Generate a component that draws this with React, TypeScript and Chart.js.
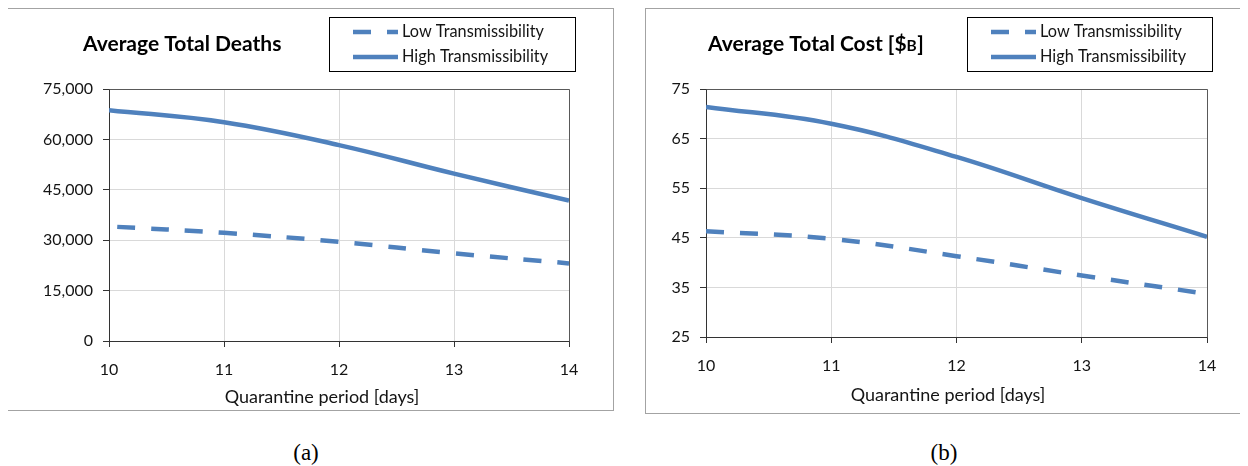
import React, { useEffect, useRef } from 'react';
import { Chart, registerables } from 'chart.js';

Chart.register(...registerables);

// ---- data ----
const periods = [10, 11, 12, 13, 14];
const seriesLabels = ['Low Transmissibility', 'High Transmissibility'];
const deathsLow = [34100, 32200, 29500, 26100, 23100];
const deathsHigh = [68700, 65100, 58300, 49800, 41800];
const costLow = [46.3, 44.8, 41.3, 37.4, 33.7];
const costHigh = [71.4, 68.0, 61.3, 53.0, 45.2];
const deathTicks = [0, 15000, 30000, 45000, 60000, 75000];
const costTicks = [25, 35, 45, 55, 65, 75];
const xAxisTitle = 'Quarantine period [days]';
const deathsTitle: [string, boolean][] = [['Average Total Deaths', false]];
const costTitle: [string, boolean][] = [['Average Total Cost [$', false], ['B', true], [']', false]];
const captions = ['(a)', '(b)'];

const BLUE = '#4F81BD';
const FONT = 'Lato, "Open Sans", sans-serif';
const TEXT = '#141414';

type Spec = {
  w: number;
  h: number;
  area: { l: number; t: number; r: number; b: number };
  low: number[];
  high: number[];
  yTicks: number[];
  title: [string, boolean][];
  titleX: number;
  titleY: number;
  legend: { x: number; y: number; w: number; h: number };
  xTitleX: number;
  xTitleY: number;
  dashOffset: number;
};

const decoPlugin = {
  id: 'deco',
  beforeDatasetsDraw(chart: any) {
    const { ctx, chartArea: a } = chart;
    ctx.save();
    ctx.strokeStyle = '#595959';
    ctx.lineWidth = 1;
    ctx.beginPath();
    ctx.moveTo(Math.round(a.left) + 0.5, Math.round(a.top) + 0.5);
    ctx.lineTo(Math.round(a.right) + 0.5, Math.round(a.top) + 0.5);
    ctx.lineTo(Math.round(a.right) + 0.5, Math.round(a.bottom) + 0.5);
    ctx.stroke();
    ctx.restore();
  },
  afterDraw(chart: any, _args: any, opts: any) {
    const { ctx } = chart;
    const s: Spec = opts.spec;
    ctx.save();
    // title
    ctx.fillStyle = '#000';
    ctx.textBaseline = 'alphabetic';
    ctx.textAlign = 'left';
    let x = s.titleX;
    for (const [txt, small] of s.title) {
      ctx.font = `bold ${small ? 15.5 : 21}px ${FONT}`;
      ctx.fillText(txt, x, s.titleY);
      x += ctx.measureText(txt).width + (small ? 0.5 : 0);
    }
    // x axis title
    ctx.font = `18px ${FONT}`;
    ctx.fillStyle = TEXT;
    ctx.textAlign = 'center';
    ctx.textBaseline = 'middle';
    ctx.fillText(xAxisTitle, s.xTitleX, s.xTitleY);
    // legend box
    const lg = s.legend;
    ctx.strokeStyle = '#000';
    ctx.lineWidth = 1;
    ctx.strokeRect(lg.x + 0.5, lg.y + 0.5, lg.w, lg.h);
    chart.data.datasets.forEach((ds: any, i: number) => {
      const yy = lg.y + 15 + i * 25;
      ctx.save();
      ctx.strokeStyle = ds.borderColor;
      ctx.lineWidth = ds.borderWidth;
      ctx.setLineDash(ds.borderDash || []);
      ctx.beginPath();
      ctx.moveTo(lg.x + 24, yy);
      ctx.lineTo(lg.x + 69, yy);
      ctx.stroke();
      ctx.restore();
      ctx.font = `16.3px ${FONT}`;
      ctx.fillStyle = TEXT;
      ctx.textAlign = 'left';
      ctx.textBaseline = 'middle';
      ctx.fillText(ds.label, lg.x + 73, yy);
    });
    ctx.restore();
  },
};

function makeConfig(s: Spec, fmt: (v: number) => string): any {
  return {
    type: 'line',
    data: {
      datasets: [
        {
          label: seriesLabels[0],
          data: periods.map((p, i) => ({ x: p, y: s.low[i] })),
          borderColor: BLUE,
          borderWidth: 4.5,
          borderDash: [18, 16],
          borderDashOffset: s.dashOffset,
          pointRadius: 0,
          tension: 0.4,
          fill: false,
        },
        {
          label: seriesLabels[1],
          data: periods.map((p, i) => ({ x: p, y: s.high[i] })),
          borderColor: BLUE,
          borderWidth: 4.5,
          pointRadius: 0,
          tension: 0.4,
          fill: false,
        },
      ],
    },
    options: {
      responsive: false,
      animation: false,
      events: [],
      layout: { padding: { left: 0, top: s.area.t, right: s.w - s.area.r, bottom: 0 } },
      plugins: {
        legend: { display: false },
        title: { display: false },
        tooltip: { enabled: false },
        deco: { spec: s },
      },
      scales: {
        x: {
          type: 'linear',
          min: periods[0],
          max: periods[periods.length - 1],
          afterBuildTicks: (sc: any) => {
            sc.ticks = periods.map((v) => ({ value: v }));
          },
          afterFit: (sc: any) => {
            sc.height = s.h - s.area.b;
            sc.paddingLeft = 0;
            sc.paddingRight = 0;
          },
          grid: { color: '#d9d9d9', tickLength: 6, tickColor: '#333', lineWidth: 1 },
          border: { color: '#333', width: 1 },
          ticks: { font: { family: FONT, size: 16 }, color: TEXT, padding: 13, maxRotation: 0 },
        },
        y: {
          type: 'linear',
          min: s.yTicks[0],
          max: s.yTicks[s.yTicks.length - 1],
          afterBuildTicks: (sc: any) => {
            sc.ticks = s.yTicks.map((v) => ({ value: v }));
          },
          afterFit: (sc: any) => {
            sc.width = s.area.l;
            sc.paddingTop = 0;
            sc.paddingBottom = 0;
          },
          grid: { color: '#d9d9d9', tickLength: 6, tickColor: '#333', lineWidth: 1 },
          border: { color: '#333', width: 1 },
          ticks: {
            font: { family: FONT, size: 16 },
            color: TEXT,
            padding: 10,
            callback: (v: number) => fmt(v),
          },
        },
      },
    },
    plugins: [decoPlugin],
  };
}

const deathSpec: Spec = {
  w: 605,
  h: 401,
  area: { l: 101, t: 80, r: 561, b: 332 },
  low: deathsLow,
  high: deathsHigh,
  yTicks: deathTicks,
  title: deathsTitle,
  titleX: 75,
  titleY: 42,
  legend: { x: 321, y: 8, w: 246, h: 54 },
  xTitleX: 314,
  xTitleY: 388,
  dashOffset: 26,
};

const costSpec: Spec = {
  w: 600,
  h: 404,
  area: { l: 60, t: 80, r: 561, b: 328 },
  low: costLow,
  high: costHigh,
  yTicks: costTicks,
  title: costTitle,
  titleX: 62,
  titleY: 42,
  legend: { x: 321, y: 8, w: 245, h: 54 },
  xTitleX: 302,
  xTitleY: 386,
  dashOffset: 0,
};

function Panel({ spec, fmt, left, top }: { spec: Spec; fmt: (v: number) => string; left: number; top: number }) {
  const ref = useRef<HTMLCanvasElement>(null);
  useEffect(() => {
    if (!ref.current) return;
    const chart = new Chart(ref.current, makeConfig(spec, fmt));
    return () => chart.destroy();
  }, []);
  return (
    <div
      style={{
        position: 'absolute',
        left,
        top,
        width: spec.w + 2,
        height: spec.h + 2,
        boxSizing: 'border-box',
        border: '1px solid #a3a3a3',
      }}
    >
      <canvas ref={ref} width={spec.w} height={spec.h} style={{ display: 'block', width: spec.w, height: spec.h }} />
    </div>
  );
}

export default function App() {
  useEffect(() => {
    document.documentElement.style.overflow = 'hidden';
  }, []);
  const capStyle: React.CSSProperties = {
    position: 'absolute',
    top: 432,
    width: 60,
    textAlign: 'center',
    fontFamily: '"Liberation Serif", "DejaVu Serif", serif',
    fontSize: 23,
    lineHeight: '26px',
    color: '#000',
  };
  return (
    <div style={{ position: 'relative', width: 1232, height: 458 }}>
      <Panel spec={deathSpec} fmt={(v) => v.toLocaleString('en-US')} left={-1} top={0} />
      <Panel spec={costSpec} fmt={(v) => String(v)} left={637} top={0} />
      <div style={{ ...capStyle, left: 306 - 8 - 30 }}>{captions[0]}</div>
      <div style={{ ...capStyle, left: 944 - 8 - 30 }}>{captions[1]}</div>
    </div>
  );
}
